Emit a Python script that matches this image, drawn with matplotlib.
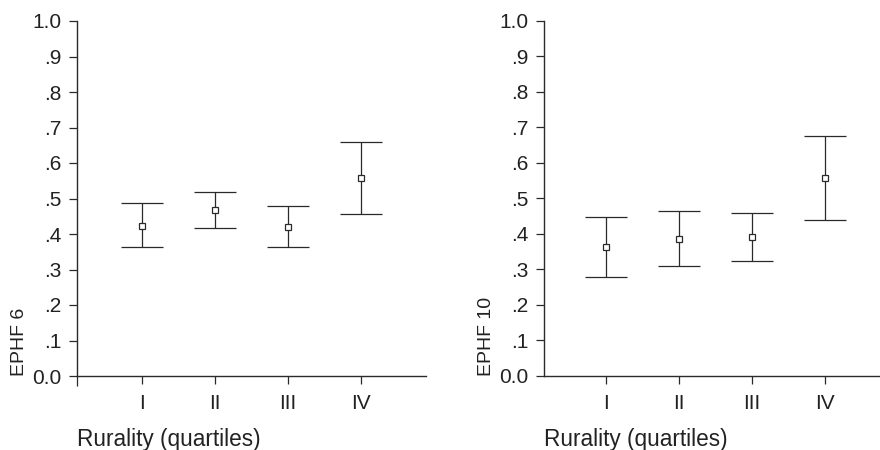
import numpy as np
import matplotlib
matplotlib.use("Agg")
import matplotlib.pyplot as plt
from matplotlib.ticker import FixedLocator

plt.rcParams['font.family'] = ['Liberation Sans', 'DejaVu Sans']

quartiles = ['I', 'II', 'III', 'IV']
yticks = [0.0, 0.1, 0.2, 0.3, 0.4, 0.5, 0.6, 0.7, 0.8, 0.9, 1.0]
ytick_labels = ['0.0', '.1', '.2', '.3', '.4', '.5', '.6', '.7', '.8', '.9', '1.0']

# EPHF 6
ephf6_mean  = [0.423, 0.468, 0.421, 0.557]
ephf6_lower = [0.364, 0.418, 0.364, 0.455]
ephf6_upper = [0.488, 0.517, 0.480, 0.660]

# EPHF 10
ephf10_mean  = [0.362, 0.386, 0.390, 0.558]
ephf10_lower = [0.278, 0.309, 0.323, 0.440]
ephf10_upper = [0.446, 0.463, 0.458, 0.675]

col = '#2a2a2a'
txt = '#222222'

fig = plt.figure(figsize=(8.8, 4.5), dpi=100)
ax1 = fig.add_axes([77/880, 74/450, 349/880, 355/450])
ax2 = fig.add_axes([544/880, 74.5/450, 336/880, 354.5/450])

def draw_panel(ax, mean, lower, upper, ylab, xlim, edge_tick):
    x = np.arange(1, len(quartiles) + 1)
    m = np.array(mean)
    yerr = [m - np.array(lower), np.array(upper) - m]
    ax.errorbar(x, m, yerr=yerr, fmt='s', color=col, ecolor=col,
                mfc='white', mec=col, ms=4.2, mew=0.9, elinewidth=0.9,
                capsize=15, capthick=0.9)
    ax.set_xlim(*xlim)
    ax.set_ylim(0, 1.0)
    ax.set_xticks(x)
    ax.set_xticklabels(quartiles)
    if edge_tick:
        ax.xaxis.set_minor_locator(FixedLocator([xlim[0]]))
        ax.tick_params(axis='x', which='minor', length=7, width=0.9, color=col)
    ax.set_yticks(yticks)
    ax.set_yticklabels(ytick_labels)
    for s in ['top', 'right']:
        ax.spines[s].set_visible(False)
    for s in ['left', 'bottom']:
        ax.spines[s].set_color(col)
        ax.spines[s].set_linewidth(1.0)
    ax.tick_params(axis='both', which='major', length=6, width=0.9,
                   color=col, labelsize=15, labelcolor=txt)
    ax.tick_params(axis='x', pad=7)
    ax.tick_params(axis='y', pad=5)
    ax.set_ylabel(ylab, loc='bottom', fontsize=14, color=txt, labelpad=3)
    ax.set_xlabel('Rurality (quartiles)', loc='left', fontsize=16.3,
                  color=txt, labelpad=11)

draw_panel(ax1, ephf6_mean, ephf6_lower, ephf6_upper, 'EPHF 6', (0.11, 4.89), True)
draw_panel(ax2, ephf10_mean, ephf10_lower, ephf10_upper, 'EPHF 10', (0.15, 4.75), False)

fig.savefig('out.png', dpi=100)
